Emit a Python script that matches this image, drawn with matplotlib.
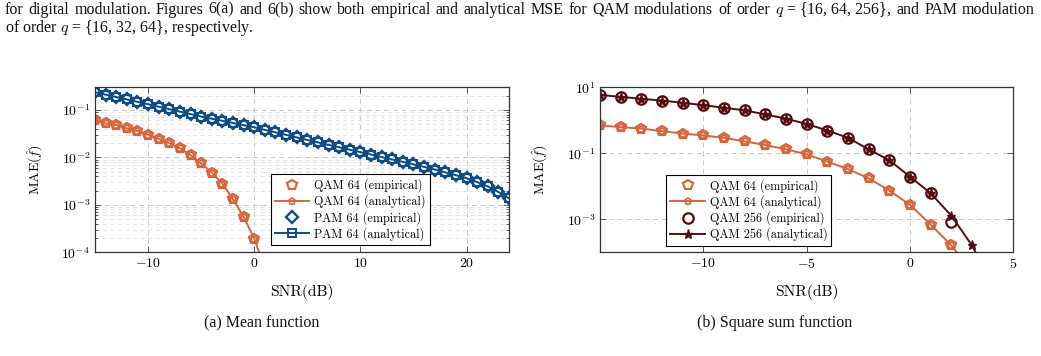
import numpy as np
import matplotlib
matplotlib.use("Agg")
import matplotlib.pyplot as plt
from matplotlib.ticker import LogLocator, NullLocator, FixedLocator

plt.rcParams['font.family'] = 'serif'
plt.rcParams['font.serif'] = ['cmr10']
plt.rcParams['mathtext.fontset'] = 'cm'
plt.rcParams['axes.formatter.use_mathtext'] = True

# colores
naranja = '#D6653C'
azul = '#0D4C87'
granate = '#560A10'

# datos (a) Mean function
snr_a = list(range(-15, 25))
pam64 = [0.236, 0.210, 0.187, 0.167, 0.148, 0.132, 0.117, 0.104, 0.0920, 0.0817,
         0.0724, 0.0653, 0.0589, 0.0531, 0.0479, 0.0432, 0.0381, 0.0337, 0.0298, 0.0264,
         0.0233, 0.0207, 0.0184, 0.0163, 0.0145, 0.0129, 0.0115, 0.0102, 0.00904, 0.00804,
         0.00715, 0.00631, 0.00555, 0.00484, 0.00421, 0.00363, 0.00302, 0.00245, 0.00186, 0.00137]
snr_qam_a = list(range(-15, 2))
qam64_a = [0.062, 0.052, 0.048, 0.041, 0.036, 0.030, 0.0245, 0.020, 0.0156, 0.0112,
           0.0075, 0.0048, 0.0028, 0.00131, 0.00056, 0.000195, 4.5e-5]
qam64_a_emp = qam64_a[:-1]

# datos (b) Square sum function
snr_b = list(range(-15, 5))
qam256_b = [5.89, 5.13, 4.47, 3.98, 3.39, 2.88, 2.40, 2.00, 1.51, 1.12,
            0.776, 0.490, 0.295, 0.132, 0.0617, 0.0195, 0.00617, 0.00129, 0.000162, 1.0e-5]
qam256_b_emp = [5.89, 5.13, 4.47, 3.98, 3.39, 2.88, 2.40, 2.00, 1.51, 1.12,
                0.776, 0.490, 0.295, 0.132, 0.0617, 0.0195, 0.00617, 0.000832]
snr_qam_b = list(range(-15, 4))
qam64_b = [0.71, 0.617, 0.562, 0.468, 0.398, 0.347, 0.295, 0.229, 0.178, 0.132,
           0.0933, 0.0562, 0.0331, 0.0174, 0.00741, 0.00275, 0.000692, 0.000162, 2.5e-5]
qam64_b_emp = qam64_b[:-1]

palabras1 = ['for', 'digital', 'modulation.', 'Figures', '6(a)', 'and', '6(b)', 'show', 'both',
             'empirical', 'and', 'analytical', 'MSE', 'for', 'QAM', 'modulations', 'of', 'order',
             '$q$ = {16, 64, 256},', 'and', 'PAM', 'modulation']
linea2 = 'of order $q$ = {16, 32, 64}, respectively.'

fig = plt.figure(figsize=(10.41, 3.56), dpi=100)
ax1 = fig.add_axes([95/1041, 1-252.3/356, 414/1041, 165/356])
ax2 = fig.add_axes([600/1041, 1-252.3/356, 413.3/1041, 165/356])

fs_tick = 10
fs_leg = 8.8
fs_xlab = 11.2
fs_ylab = 10

def estilo(ax):
    ax.set_yscale('log')
    ax.tick_params(which='both', direction='in', top=True, right=True, labelsize=fs_tick,
                   color='#444444', width=0.6)
    ax.tick_params(which='major', length=4)
    ax.tick_params(which='minor', length=2.5)
    for s in ax.spines.values():
        s.set_color('#333333')
        s.set_linewidth(0.9)
    ax.set_axisbelow(True)

# (a)
estilo(ax1)
ax1.plot(snr_qam_a[:-1], qam64_a_emp, linestyle='none', marker='p', ms=7.5, mfc='none',
         mec=naranja, mew=1.6, label='QAM 64 (empirical)')
ax1.plot(snr_qam_a, qam64_a, color=naranja, lw=1.4, marker='p', ms=4.5, mfc='none',
         mew=1.2, label='QAM 64 (analytical)')
ax1.plot(snr_a, pam64, linestyle='none', marker='D', ms=6.5, mfc='none',
         mec=azul, mew=1.7, label='PAM 64 (empirical)')
ax1.plot(snr_a, pam64, color=azul, lw=1.4, marker='s', ms=5.5, mfc='none',
         mew=1.4, label='PAM 64 (analytical)')
ax1.set_xlim(-15, 24)
ax1.set_ylim(1e-4, 0.3)
ax1.set_xticks([-10, 0, 10, 20])
ax1.yaxis.set_major_locator(FixedLocator([1e-4, 1e-3, 1e-2, 1e-1]))
ax1.yaxis.set_minor_locator(LogLocator(base=10, subs=np.arange(2, 10)))
ax1.grid(True, which='major', linestyle=(0, (5, 4)), color='#c8c8c8', lw=0.7)
ax1.grid(True, which='minor', axis='y', linestyle=(0, (5, 4)), color='#e2e2e2', lw=0.6)
ax1.set_xlabel('SNR(dB)', fontsize=fs_xlab)
ax1.set_ylabel(r'MAE($\hat{f}$)', fontsize=fs_ylab)
ax1.xaxis.set_label_coords(0.5, -0.19)
ax1.yaxis.set_label_coords(-0.12, 0.5)
ax1.legend(loc='lower left', bbox_to_anchor=(0.424, 0.044), fontsize=fs_leg, fancybox=False,
           framealpha=1, edgecolor='black', handlelength=2.8, labelspacing=0.2,
           borderpad=0.35, handletextpad=0.4, borderaxespad=0).get_frame().set_linewidth(0.8)

# (b)
estilo(ax2)
ax2.plot(snr_qam_b[:-1], qam64_b_emp, linestyle='none', marker='p', ms=7.5, mfc='none',
         mec=naranja, mew=1.6, label='QAM 64 (empirical)')
ax2.plot(snr_qam_b, qam64_b, color=naranja, lw=1.4, marker='p', ms=4.5, mfc='none',
         mew=1.2, label='QAM 64 (analytical)')
ax2.plot(snr_b[:len(qam256_b_emp)], qam256_b_emp, linestyle='none', marker='o', ms=7.5,
         mfc='none', mec=granate, mew=1.6, label='QAM 256 (empirical)')
ax2.plot(snr_b, qam256_b, color=granate, lw=1.4, marker='*', ms=6.5,
         label='QAM 256 (analytical)')
ax2.set_xlim(-15, 5)
ax2.set_ylim(1e-4, 10)
ax2.set_xticks([-10, -5, 0, 5])
ax2.yaxis.set_major_locator(FixedLocator([1e-3, 1e-1, 1e1]))
ax2.yaxis.set_minor_locator(NullLocator())
ax2.grid(True, which='major', linestyle=(0, (5, 4)), color='#c8c8c8', lw=0.7)
ax2.set_xlabel('SNR(dB)', fontsize=fs_xlab)
ax2.set_ylabel(r'MAE($\hat{f}$)', fontsize=fs_ylab)
ax2.xaxis.set_label_coords(0.5, -0.19)
ax2.yaxis.set_label_coords(-0.12, 0.5)
ax2.legend(loc='lower left', bbox_to_anchor=(0.16, 0.04), fontsize=fs_leg, fancybox=False,
           framealpha=1, edgecolor='black', handlelength=2.8, labelspacing=0.2,
           borderpad=0.35, handletextpad=0.4, borderaxespad=0).get_frame().set_linewidth(0.8)

# texto del documento
tf = dict(family='Liberation Serif', fontsize=11.5, color='#111111')

# primera linea justificada entre x=5 y x=1035
rend = fig.canvas.get_renderer()
trozos = []
for t in palabras1:
    txt = fig.text(0, 1-9.5/356, t, va='center', ha='left', **tf)
    trozos.append((txt, txt.get_window_extent(rend).width))
x0, x1 = 5, 1035
hueco = (x1 - x0 - sum(w for _, w in trozos)) / (len(trozos) - 1)
x = x0
for txt, w in trozos:
    txt.set_x(x / 1041)
    x += w + hueco

fig.text(5/1041, 1-28.5/356, linea2, va='center', ha='left', **tf)
fig.text(262/1041, 1-323/356, '(a) Mean function', va='center', ha='center', **tf)
fig.text(775/1041, 1-323/356, '(b) Square sum function', va='center', ha='center', **tf)

fig.savefig('out.png', dpi=100)
